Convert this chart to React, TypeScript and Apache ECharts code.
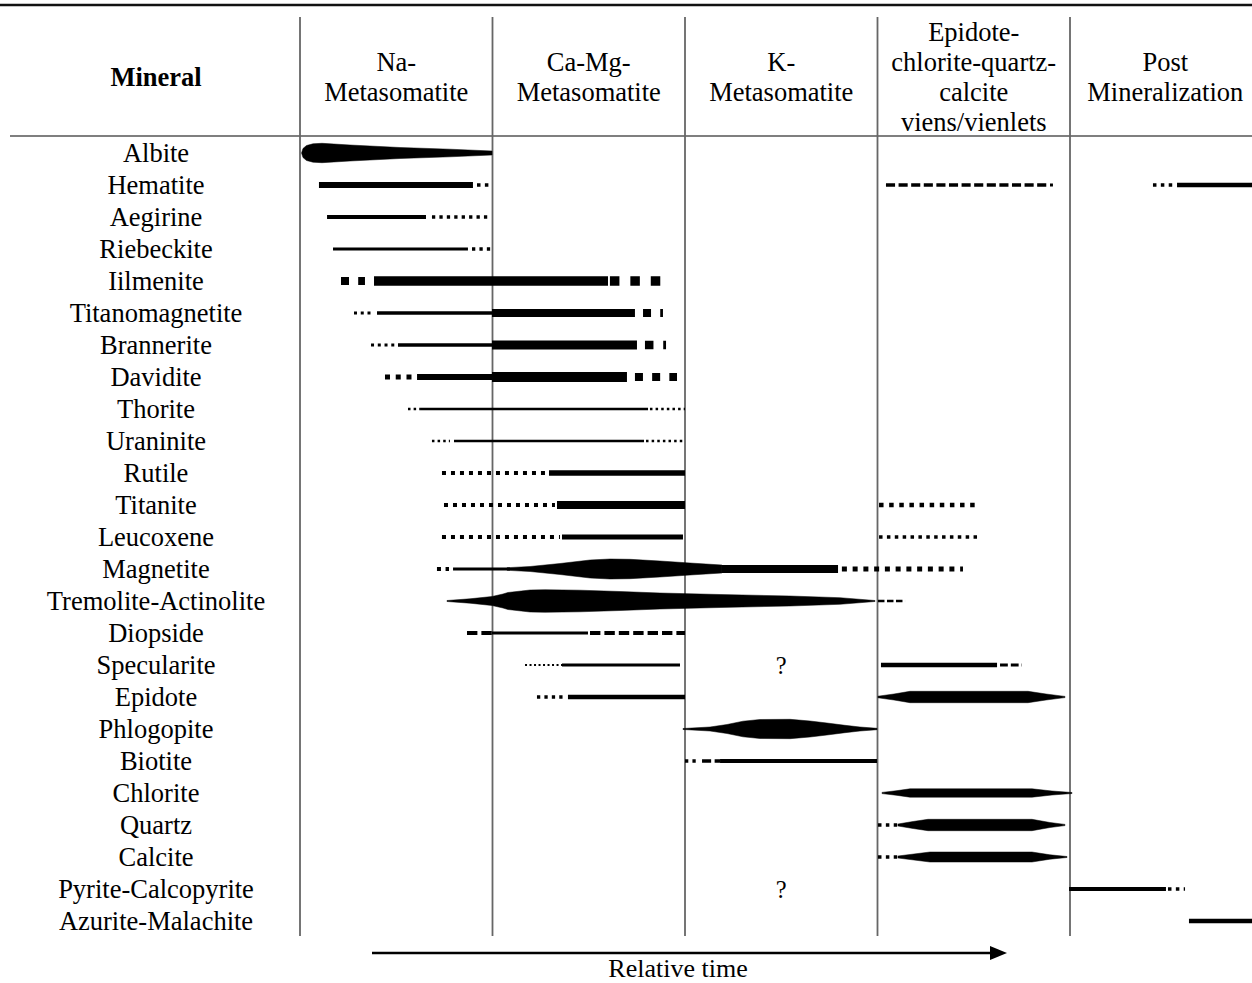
import React, { useEffect, useRef } from 'react';
import * as echarts from 'echarts';

// ---------------- data ----------------
const minerals = [
  'Albite', 'Hematite', 'Aegirine', 'Riebeckite', 'Iilmenite', 'Titanomagnetite',
  'Brannerite', 'Davidite', 'Thorite', 'Uraninite', 'Rutile', 'Titanite', 'Leucoxene',
  'Magnetite', 'Tremolite-Actinolite', 'Diopside', 'Specularite', 'Epidote',
  'Phlogopite', 'Biotite', 'Chlorite', 'Quartz', 'Calcite', 'Pyrite-Calcopyrite',
  'Azurite-Malachite',
];

const stages = [
  'Na-\nMetasomatite',
  'Ca-Mg-\nMetasomatite',
  'K-\nMetasomatite',
  'Epidote-\nchlorite-quartz-\ncalcite\nviens/vienlets',
  'Post\nMineralization',
];

// relative time: each stage spans 20 units (0-20, 20-40, ...)
// [mineral, from, to, abundance weight, certainty pattern]
const segments: [string, number, number, number, string][] = [
  ['Hematite', 1.97, 17.97, 6, 'solid'],
  ['Hematite', 18.39, 19.64, 3.5, 'dot'],
  ['Hematite', 60.88, 77.61, 3.5, 'dash'],
  ['Hematite', 77.92, 78.23, 3, 'solid'],
  ['Hematite', 88.62, 90.7, 3.5, 'dot'],
  ['Hematite', 91.12, 99, 4.5, 'solid'],
  ['Aegirine', 2.81, 13.09, 4, 'solid'],
  ['Aegirine', 13.71, 19.64, 3.3, 'dot'],
  ['Riebeckite', 3.43, 17.45, 3, 'solid'],
  ['Riebeckite', 17.87, 19.95, 3.3, 'dot'],
  ['Iilmenite', 4.26, 6.75, 8, 'block'],
  ['Iilmenite', 7.69, 32.0, 9.5, 'solid'],
  ['Iilmenite', 32.2, 37.5, 9.5, 'block'],
  ['Titanomagnetite', 5.61, 7.58, 3, 'dot'],
  ['Titanomagnetite', 8.0, 19.95, 3.5, 'solid'],
  ['Titanomagnetite', 19.95, 34.8, 8, 'solid'],
  ['Titanomagnetite', 35.64, 37.71, 8, 'block'],
  ['Brannerite', 7.38, 10.08, 3, 'dot'],
  ['Brannerite', 10.18, 19.95, 3.5, 'solid'],
  ['Brannerite', 19.95, 35.01, 9, 'solid'],
  ['Brannerite', 35.84, 38.03, 8.5, 'block'],
  ['Davidite', 8.83, 11.84, 5, 'block'],
  ['Davidite', 12.16, 19.95, 6, 'solid'],
  ['Davidite', 19.95, 33.97, 10, 'solid'],
  ['Davidite', 34.8, 39.17, 8, 'block'],
  ['Thorite', 11.22, 12.47, 2.5, 'dot'],
  ['Thorite', 12.47, 36.16, 2.5, 'solid'],
  ['Thorite', 36.36, 40.0, 2.5, 'dot'],
  ['Uraninite', 13.71, 15.58, 2.5, 'dot'],
  ['Uraninite', 16.0, 35.74, 2.5, 'solid'],
  ['Uraninite', 35.95, 40.0, 2.5, 'dot'],
  ['Rutile', 14.75, 25.66, 4, 'dot'],
  ['Rutile', 25.87, 40.0, 5.5, 'solid'],
  ['Titanite', 14.96, 26.49, 4, 'dot'],
  ['Titanite', 26.7, 40.0, 8, 'solid'],
  ['Titanite', 60.16, 70.44, 4.5, 'dot'],
  ['Leucoxene', 14.75, 27.01, 4, 'dot'],
  ['Leucoxene', 27.22, 39.79, 5, 'solid'],
  ['Leucoxene', 60.16, 70.34, 3.5, 'dot'],
  ['Magnetite', 14.23, 15.48, 4, 'block'],
  ['Magnetite', 15.9, 21.82, 3, 'solid'],
  ['Magnetite', 43.84, 55.9, 8, 'solid'],
  ['Magnetite', 56.3, 68.88, 5, 'block'],
  ['Tremolite-Actinolite', 60.05, 62.86, 2.5, 'dash'],
  ['Diopside', 17.35, 19.95, 4, 'dash'],
  ['Diopside', 19.95, 29.92, 3, 'solid'],
  ['Diopside', 30.13, 40.0, 4, 'dash'],
  ['Specularite', 23.38, 27.22, 2, 'dot'],
  ['Specularite', 27.22, 39.48, 3, 'solid'],
  ['Specularite', 60.36, 72.42, 4.5, 'solid'],
  ['Specularite', 72.73, 75.01, 3, 'dash'],
  ['Epidote', 24.62, 27.53, 3.3, 'dot'],
  ['Epidote', 27.84, 40.0, 4.3, 'solid'],
  ['Biotite', 40.0, 41.25, 3.3, 'dot'],
  ['Biotite', 41.77, 43.64, 3.5, 'dash'],
  ['Biotite', 43.64, 59.95, 4, 'solid'],
  ['Quartz', 60.05, 62.13, 3.5, 'dot'],
  ['Calcite', 60.05, 62.13, 3.5, 'dot'],
  ['Pyrite-Calcopyrite', 79.9, 89.97, 4, 'solid'],
  ['Pyrite-Calcopyrite', 90.18, 91.95, 3.5, 'dot'],
  ['Azurite-Malachite', 92.36, 99, 4.5, 'solid'],
];

// abundance lenses: [mineral, [[time, half-abundance], ...]]
const lenses: [string, [number, number][]][] = [
  ['Albite', [[0.16, 0], [0.31, 4.5], [0.68, 7.5], [1.35, 9.2], [2.29, 9.7], [5.19, 8], [10.39, 5.5], [15.58, 3.8], [19.95, 2]]],
  ['Magnetite', [[21.51, 1.3], [23.9, 2.5], [27.01, 5.5], [30.13, 9], [32.21, 10], [34.29, 9.7], [37.4, 8], [40.52, 6], [43.84, 4]]],
  ['Tremolite-Actinolite', [[15.27, 0.5], [17.66, 2.2], [19.95, 4.5], [21.09, 7], [21.6, 8.5], [23.9, 11], [25.45, 11.3], [29.09, 10.8], [33.25, 9.5], [37.4, 8], [43.64, 6.5], [50.91, 5], [56.1, 3.3], [59.74, 0.5]]],
  ['Phlogopite', [[39.79, 0.5], [42.6, 2], [44.36, 4.5], [46.03, 7.8], [47.79, 9.5], [50.91, 9.7], [52.99, 8], [54.75, 6], [56.62, 3.7], [58.18, 2], [59.95, 0.7]]],
  ['Epidote', [[60.05, 0.8], [61.71, 3], [63.38, 5.7], [75.64, 5.7], [77.51, 3], [79.48, 0.6]]],
  ['Chlorite', [[60.47, 0.6], [61.92, 2.2], [63.38, 4.2], [76.05, 4.2], [78.13, 2], [80.21, 0.5]]],
  ['Quartz', [[62.13, 1], [63.69, 3.5], [65.25, 5.7], [76.05, 5.7], [77.92, 2.5], [79.48, 0.6]]],
  ['Calcite', [[62.13, 1], [63.79, 3], [65.45, 5], [76.05, 5], [77.92, 2.2], [79.69, 0.5]]],
];

const uncertain = ['Specularite', 'Pyrite-Calcopyrite'];
const uncertainTime = 50;

// ---------------- layout ----------------
const FONT = '"Liberation Serif", "Times New Roman", serif';
const FS = 26.5;
const WIDTH = 1252;
const GRID_LEFT = 300;
const GRID_TOP = 137;
const GRID_H = 800;
const STAGE_W = 192.5;
const UNITS_PER_STAGE = 20;
const X_MAX = ((WIDTH - GRID_LEFT) / STAGE_W) * UNITS_PER_STAGE;

function dashFor(p: string, w: number): any {
  if (p === 'dot') return [w, w * 1.25];
  if (p === 'block') return [w, w * 1.15];
  if (p === 'dash') return [w * 2.6, w];
  return 'solid';
}

export default function App() {
  const ref = useRef<HTMLDivElement>(null);
  useEffect(() => {
    const chart = echarts.init(ref.current as HTMLDivElement, null, { renderer: 'svg' });
    const rowOf = (m: string) => minerals.indexOf(m);
    const segData = segments.map(([m, a, b, w]) => [a, b, rowOf(m), w]);
    const lensData = lenses.map(([m, prof], i) => [prof[0][0], prof[prof.length - 1][0], rowOf(m), i]);
    const qData = uncertain.map((m) => [uncertainTime, rowOf(m)]);

    const graphics: any[] = [];
    graphics.push({ type: 'line', shape: { x1: 0, y1: 5, x2: WIDTH, y2: 5 }, style: { stroke: '#111', lineWidth: 2.5 } });
    graphics.push({ type: 'line', shape: { x1: 10, y1: 136, x2: WIDTH, y2: 136 }, style: { stroke: '#555', lineWidth: 1.5 } });
    for (let i = 0; i < stages.length; i++) {
      const x = GRID_LEFT + i * STAGE_W;
      graphics.push({ type: 'line', shape: { x1: x, y1: 17, x2: x, y2: 936 }, style: { stroke: '#666', lineWidth: 1.8 } });
      graphics.push({
        type: 'text', x: x + STAGE_W / 2 - (i === stages.length - 1 ? 1 : 0), y: 77,
        style: { text: stages[i], fontSize: FS, fontFamily: FONT, fill: '#000', align: 'center', verticalAlign: 'middle', lineHeight: 30 },
      });
    }
    graphics.push({
      type: 'text', x: 156, y: 77,
      style: { text: 'Mineral', fontSize: FS, fontFamily: FONT, fontWeight: 'bold', fill: '#000', align: 'center', verticalAlign: 'middle' },
    });
    graphics.push({ type: 'line', shape: { x1: 372, y1: 953, x2: 995, y2: 953 }, style: { stroke: '#000', lineWidth: 2.5 } });
    graphics.push({ type: 'polygon', shape: { points: [[990, 946], [1007, 953], [990, 960]] }, style: { fill: '#000' } });
    graphics.push({
      type: 'text', x: 678, y: 968,
      style: { text: 'Relative time', fontSize: 26, fontFamily: FONT, fill: '#000', align: 'center', verticalAlign: 'middle' },
    });

    chart.setOption({
      animation: false,
      backgroundColor: '#fff',
      grid: { left: GRID_LEFT, top: GRID_TOP, right: 0, height: GRID_H },
      xAxis: { type: 'value', min: 0, max: X_MAX, show: false },
      yAxis: {
        type: 'category', data: minerals, inverse: true,
        axisLine: { show: false }, axisTick: { show: false }, splitLine: { show: false },
        axisLabel: { interval: 0, fontSize: FS, fontFamily: FONT, color: '#000', align: 'center', margin: GRID_LEFT - 156 },
      },
      graphic: graphics,
      series: [
        {
          type: 'custom', name: 'segments', z: 10, clip: false,
          encode: { x: [0, 1], y: 2 },
          data: segData,
          renderItem: (params: any, api: any) => {
            const seg = segments[params.dataIndex];
            const row = api.value(2);
            const p0 = api.coord([api.value(0), row]);
            const p1 = api.coord([api.value(1), row]);
            return {
              type: 'line',
              shape: { x1: p0[0], y1: p0[1], x2: p1[0], y2: p1[1] },
              style: { stroke: '#000', lineWidth: seg[3], lineDash: dashFor(seg[4], seg[3]), lineCap: 'butt', fill: null },
            };
          },
        },
        {
          type: 'custom', name: 'lenses', z: 10, clip: false,
          encode: { x: [0, 1], y: 2 },
          data: lensData,
          renderItem: (params: any, api: any) => {
            const prof = lenses[params.dataIndex][1];
            const row = api.value(2);
            const top = prof.map(([x, h]) => { const c = api.coord([x, row]); return [c[0], c[1] - h]; });
            const bot = prof.slice().reverse().map(([x, h]) => { const c = api.coord([x, row]); return [c[0], c[1] + h]; });
            return { type: 'polygon', shape: { points: top.concat(bot) }, style: { fill: '#000', stroke: '#000', lineWidth: 0.5 } };
          },
        },
        {
          type: 'custom', name: 'uncertain', z: 10, clip: false,
          encode: { x: 0, y: 1 },
          data: qData,
          renderItem: (params: any, api: any) => {
            const c = api.coord([api.value(0), api.value(1)]);
            return {
              type: 'text', x: c[0], y: c[1],
              style: { text: '?', fontSize: FS - 2, fontFamily: FONT, fill: '#000', align: 'center', verticalAlign: 'middle' },
            };
          },
        },
      ],
    });
    return () => chart.dispose();
  }, []);
  return <div ref={ref} style={{ position: 'absolute', left: 0, top: 0, width: WIDTH, height: 983 }} />;
}
